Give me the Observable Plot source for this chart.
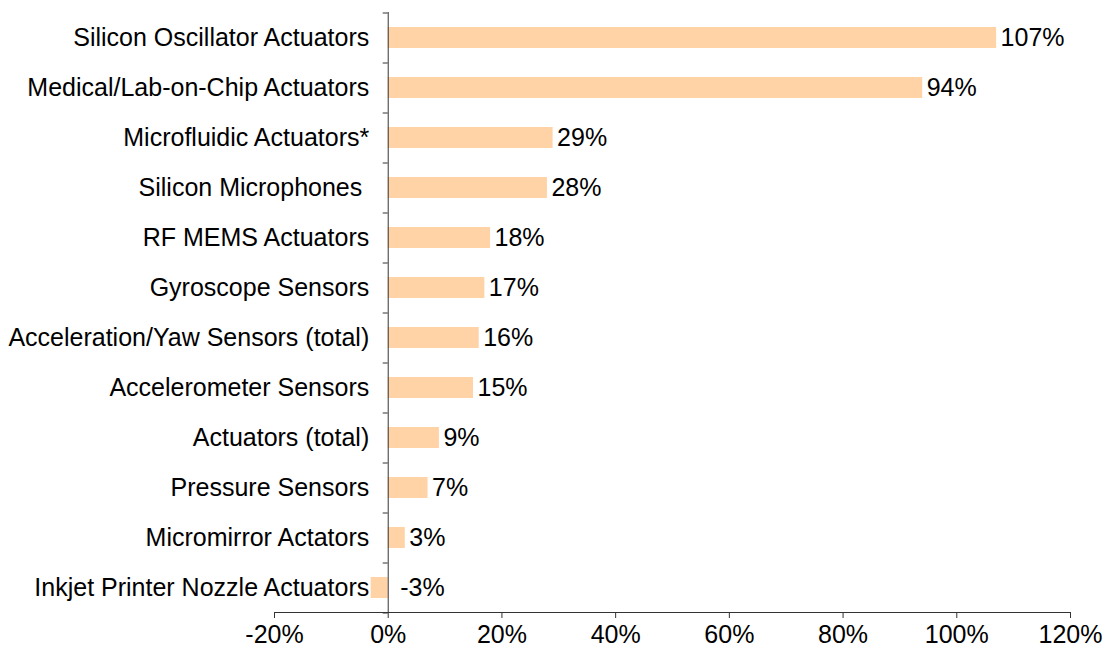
<!DOCTYPE html>
<html>
<head>
<meta charset="utf-8">
<script src="https://cdn.jsdelivr.net/npm/d3@7"></script>
<script src="https://cdn.jsdelivr.net/npm/@observablehq/plot@0.6"></script>
<style>
  html, body { margin: 0; padding: 0; background: #ffffff; }
  #chart svg { display: block; }
</style>
</head>
<body>
<div id="chart"></div>
<script>
const categories = [
  "Silicon Oscillator Actuators",
  "Medical/Lab-on-Chip Actuators",
  "Microfluidic Actuators*",
  "Silicon Microphones ",
  "RF MEMS Actuators",
  "Gyroscope Sensors",
  "Acceleration/Yaw Sensors (total)",
  "Accelerometer Sensors",
  "Actuators (total)",
  "Pressure Sensors",
  "Micromirror Actators",
  "Inkjet Printer Nozzle Actuators"
];
const growth = [107, 94, 29, 28, 18, 17, 16, 15, 9, 7, 3, -3];
const xTicks = [-20, 0, 20, 40, 60, 80, 100, 120];

const data = categories.map((c, i) => ({category: c, value: growth[i]}));
const pos = data.filter(d => d.value >= 0);
const neg = data.filter(d => d.value < 0);
const font = "'Liberation Sans', Arial, sans-serif";

const chart = Plot.plot({
  width: 1107,
  height: 658,
  marginTop: 12,
  marginBottom: 46,
  marginLeft: 274,
  marginRight: 37,
  style: {fontFamily: font, fontSize: "25px", color: "#000", background: "#fff"},
  x: {domain: [-20, 120], ticks: xTicks, tickFormat: d => d + "%", label: null},
  y: {domain: categories, paddingInner: 0.58, paddingOuter: 0.29, label: null, axis: null},
  marks: [
    Plot.barX(data, {x: "value", y: "category", fill: "#FFD3A5"}),
    Plot.ruleX([0], {stroke: "#333", strokeWidth: 1}),
    Plot.ruleY(categories, {y: d => d, x1: 0, x2: 0, insetLeft: -5, dy: -25, stroke: "#333"}),
    Plot.ruleY([categories[categories.length - 1]], {y: d => d, x1: 0, x2: 0, insetLeft: -5, dy: 25, stroke: "#333"}),
    Plot.frame({anchor: "bottom", stroke: "#333"}),
    Plot.axisX({ticks: xTicks, tickFormat: d => d + "%", tickSize: 6, tickPadding: 7, stroke: "#333", fontSize: 25, label: null}),
    Plot.text(data, {x: 0, y: "category", text: "category", textAnchor: "end", dx: -19, fontSize: 25, fill: "#000"}),
    Plot.text(pos, {x: "value", y: "category", text: d => d.value + "%", textAnchor: "start", dx: 4, fontSize: 25, fill: "#000"}),
    Plot.text(neg, {x: 0, y: "category", text: d => d.value + "%", textAnchor: "start", dx: 12, fontSize: 25, fill: "#000"})
  ]
});
document.getElementById("chart").appendChild(chart);
</script>
</body>
</html>
